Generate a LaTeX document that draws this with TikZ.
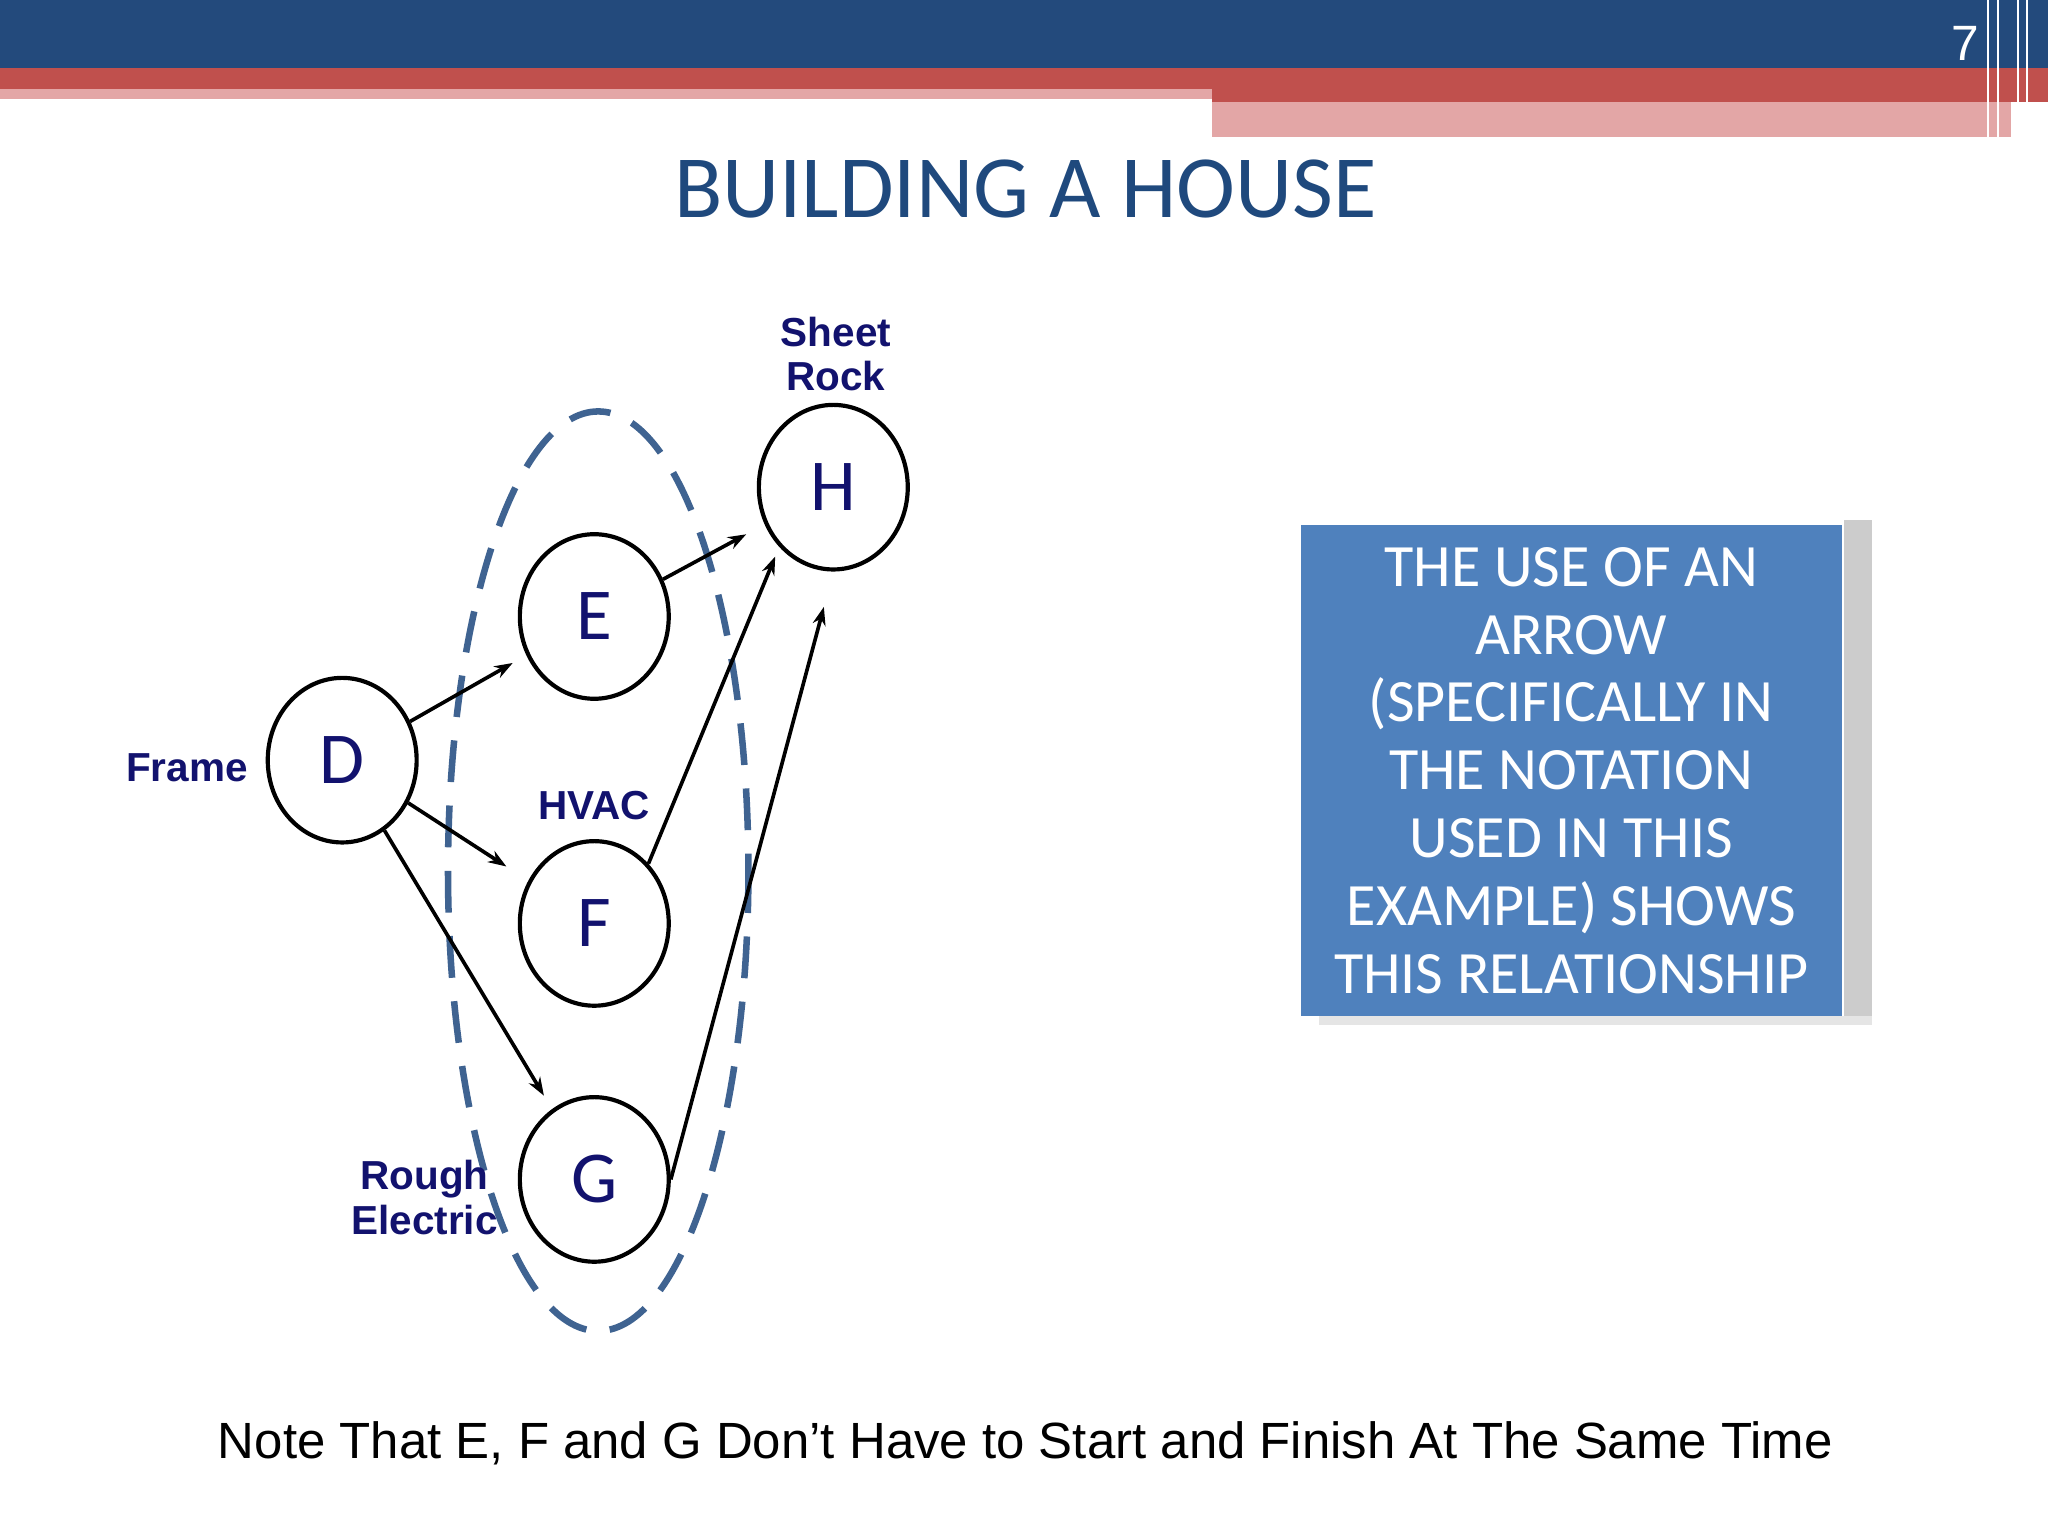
\documentclass[tikz,border=0pt]{standalone}
\usepackage{fontspec}
\setmainfont{Liberation Sans}
\newfontfamily\carl{Carlito}
\usetikzlibrary{arrows.meta,shapes.geometric}
\definecolor{topblue}{HTML}{234A7C}
\definecolor{redband}{HTML}{C0504D}
\definecolor{pinkband}{HTML}{E3A6A6}
\definecolor{titleblue}{HTML}{1F497D}
\definecolor{navy}{HTML}{12126E}
\definecolor{boxblue}{HTML}{4F81BD}
\definecolor{dashblue}{HTML}{3F6391}
\tikzset{
 ev/.style={draw,line width=1.6pt,ellipse,minimum width=57pt,minimum height=63pt,inner sep=0pt,font=\carl\fontsize{28}{28}\selectfont,text=navy},
 lab/.style={font=\bfseries\fontsize{15.5}{17}\selectfont,text=navy,align=center},
 arr/.style={line width=1.4pt,-{Stealth[length=7pt,width=5pt]}}
}
\begin{document}
\begin{tikzpicture}[x=0.5pt,y=-0.5pt]
\useasboundingbox (0,0) rectangle (1568,1176);
\fill[white] (0,0) rectangle (1568,1176);
\fill[topblue] (0,0) rectangle (1568,52);
\fill[redband] (0,52) rectangle (1568,68);
\fill[pinkband] (0,68) rectangle (928,76);
\fill[redband] (928,68) rectangle (1568,78);
\fill[pinkband] (928,78) rectangle (1540,105);
\foreach \x in {1522,1530,1545,1552} \draw[white,line width=0.8pt] (\x,0) -- (\x,105);
\node[text=white,font=\fontsize{19}{19}\selectfont] (pg) at (1505,33) {7};
\node[text=titleblue,font=\carl\fontsize{34}{34}\selectfont] (title) at (785,145) {BUILDING A HOUSE};
\draw[dashblue,line width=2.5pt,dash pattern=on 16pt off 9pt] (458,667) ellipse [x radius=115, y radius=352];
\node[ev] (D) at (262,582) {D};
\node[ev] (E) at (455,472) {E};
\node[ev] (F) at (455,707) {F};
\node[ev] (G) at (455,903) {G};
\node[ev] (H) at (638,373) {H};
\draw[arr,shorten >=6pt] (D) -- (E);
\draw[arr,shorten >=10pt] (D) -- (F);
\draw[arr,shorten >=6pt] (D) -- (G);
\draw[arr,shorten >=8pt] (E) -- (H);
\draw[arr,shorten >=4pt] (F.north east) -- (H.south west);
\draw[arr,shorten >=14pt] (G.east) -- (H.south);
\node[lab] (lf) at (143,588) {Frame};
\node[lab] (lh) at (455,617) {HVAC};
\node[lab] (ls) at (640,271) {Sheet\\Rock};
\node[lab] (lr) at (325,917) {Rough\\Electric};
\fill[gray!40] (1412,398) rectangle (1433,785);
\fill[gray!20] (1010,778) rectangle (1433,785);
\fill[boxblue] (996,402) rectangle (1410,778);
\node[text=white,align=center,font=\carl\fontsize{23}{26}\selectfont] (bt) at (1203,590) {THE USE OF AN\\ARROW\\(SPECIFICALLY IN\\THE NOTATION\\USED IN THIS\\EXAMPLE) SHOWS\\THIS RELATIONSHIP};
\node[font=\fontsize{19.5}{20}\selectfont] (note) at (785,1105) {Note That E, F and G Don’t Have to Start and Finish At The Same Time};
\end{tikzpicture}
\end{document}
